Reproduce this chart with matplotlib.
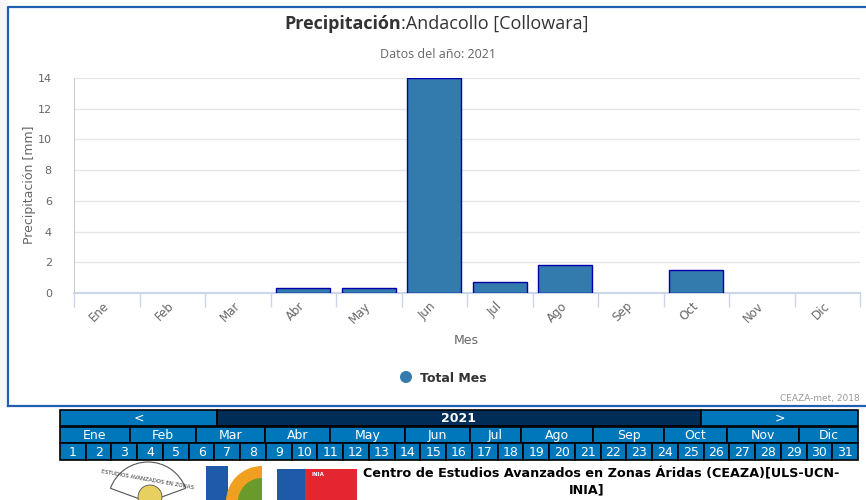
import matplotlib.pyplot as plt
from matplotlib.patches import Rectangle, Circle, Wedge

# monthly precipitation totals (mm), 2021
meses = ['Ene', 'Feb', 'Mar', 'Abr', 'May', 'Jun', 'Jul', 'Ago', 'Sep', 'Oct', 'Nov', 'Dic']
total_mes = [0, 0, 0, 0.3, 0.3, 14.0, 0.7, 1.8, 0, 1.5, 0, 0]
yticks = [0, 2, 4, 6, 8, 10, 12, 14]

# calendar widget below the chart
cal_meses = ['Ene', 'Feb', 'Mar', 'Abr', 'May', 'Jun', 'Jul', 'Ago', 'Sep', 'Oct', 'Nov', 'Dic']
cal_mes_bordes = [60, 130, 196, 265, 330, 405, 470, 521, 593, 664, 727, 799, 858]
dias = list(range(1, 32))
anio = '2021'

W, H = 866, 500
fig = plt.figure(figsize=(W / 100, H / 100), dpi=100)

# background layer in pixel coordinates
bg = fig.add_axes([0, 0, 1, 1])
bg.set_xlim(0, W)
bg.set_ylim(H, 0)
bg.axis('off')
bg.add_patch(Rectangle((0, 0), 8, 406, facecolor='#f7f7f7', edgecolor='none'))
bg.plot([8, 8, W], [406, 7, 7], color='#2060b0', lw=1.6)
bg.plot([8, W], [406, 406], color='#2060b0', lw=1.6)

# titles
bg.text(401, 24, 'Precipitación', ha='right', va='center', fontsize=13,
        fontweight='bold', color='#333333', family='Open Sans')
bg.text(401, 24, ':Andacollo [Collowara]', ha='left', va='center', fontsize=13,
        color='#333333', family='Open Sans')
bg.text(438, 54, 'Datos del año: 2021', ha='center', va='center', fontsize=9,
        color='#666666', family='Open Sans')

# legend + credits
bg.add_patch(Circle((406, 377), 6, facecolor='#337aad', edgecolor='none'))
bg.text(420, 378, 'Total Mes', ha='left', va='center', fontsize=9,
        fontweight='bold', color='#333333')
bg.text(860, 399, 'CEAZA-met, 2018', ha='right', va='center', fontsize=6.5,
        color='#999999')
bg.text(466, 341, 'Mes', ha='center', va='center', fontsize=9, color='#666666')
bg.text(30, 185, 'Precipitación [mm]', ha='center', va='center', fontsize=9,
        color='#666666', rotation=90)

# calendar
claro = '#0077bb'
oscuro = '#002d57'
def celda(x0, x1, y0, y1, color, txt, bold=False):
    bg.add_patch(Rectangle((x0, y0), x1 - x0, y1 - y0, facecolor=color,
                           edgecolor='black', lw=1.2))
    bg.text((x0 + x1) / 2, (y0 + y1) / 2 + 0.5, txt, ha='center', va='center',
            color='white', fontsize=9, fontweight='bold' if bold else 'normal')

celda(60, 217, 410, 426, claro, '<')
celda(217, 701, 410, 426, oscuro, anio, bold=True)
celda(701, 858, 410, 426, claro, '>')
for i, m in enumerate(cal_meses):
    celda(cal_mes_bordes[i], cal_mes_bordes[i + 1], 427, 443, claro, m)
paso = (858 - 60) / len(dias)
for i, d in enumerate(dias):
    celda(60 + i * paso, 60 + (i + 1) * paso, 443, 460, claro, str(d))

# logos (rough)
bg.add_patch(Wedge((148, 502), 40, 200, 340, facecolor='white', edgecolor='#555555', lw=0.8))
bg.text(148, 480, 'ESTUDIOS AVANZADOS EN ZONAS', ha='center', va='center', fontsize=4,
        color='#333333', rotation=-10)
bg.add_patch(Circle((150, 497), 12, facecolor='#e8d060', edgecolor='#555555', lw=0.6))
bg.add_patch(Rectangle((206, 466), 22, 34, facecolor='#1f5aa8', edgecolor='none'))
bg.add_patch(Wedge((262, 502), 36, 180, 270, facecolor='#f0a020', edgecolor='none'))
bg.add_patch(Wedge((262, 502), 24, 180, 270, facecolor='#6a9a2a', edgecolor='none'))
bg.add_patch(Rectangle((277, 469), 28, 31, facecolor='#1f5aa8', edgecolor='none'))
bg.add_patch(Rectangle((305, 469), 52, 31, facecolor='#e3262f', edgecolor='none'))
bg.text(311, 474, 'INIA', ha='left', va='center', fontsize=4, color='white', fontweight='bold')
bg.text(601, 474, 'Centro de Estudios Avanzados en Zonas Áridas (CEAZA)[ULS-UCN-',
        ha='center', va='center', fontsize=9.2, fontweight='bold', color='black')
bg.text(587, 490, 'INIA]', ha='center', va='center', fontsize=9.2,
        fontweight='bold', color='black')

# main chart
x0, x1, y0, y1 = 74, 860, 78, 293
ax = fig.add_axes([x0 / W, 1 - y1 / H, (x1 - x0) / W, (y1 - y0) / H])
ax.set_facecolor('none')
pos = list(range(len(meses)))
anchos_borde = [1 if v > 0 else 0 for v in total_mes]
ax.bar(pos, total_mes, width=0.82, color='#337aad', edgecolor='#0000aa',
       linewidth=anchos_borde, zorder=3)
ax.set_xlim(-0.5, len(meses) - 0.5)
ax.set_ylim(0, 14)
ax.set_yticks(yticks)
ax.set_yticklabels([str(v) for v in yticks], color='#666666', fontsize=8)
ax.grid(axis='y', color='#e6e6e6', lw=1, zorder=0)
ax.set_xticks(pos)
ax.set_xticklabels(meses, rotation=45, color='#666666', fontsize=8.5,
                   ha='right', va='center', rotation_mode='anchor')
ax.tick_params(axis='x', length=0, pad=8)
ax.tick_params(axis='y', length=0, pad=16)
ax.set_xticks([p - 0.5 for p in pos] + [len(meses) - 0.5], minor=True)
ax.tick_params(axis='x', which='minor', length=10, color='#ccd6eb', width=1)
for s in ['top', 'right']:
    ax.spines[s].set_visible(False)
ax.spines['left'].set_color('#cccccc')
ax.spines['bottom'].set_color('#ccd6eb')
ax.spines['bottom'].set_linewidth(1.5)

fig.savefig('out.png', dpi=100)
